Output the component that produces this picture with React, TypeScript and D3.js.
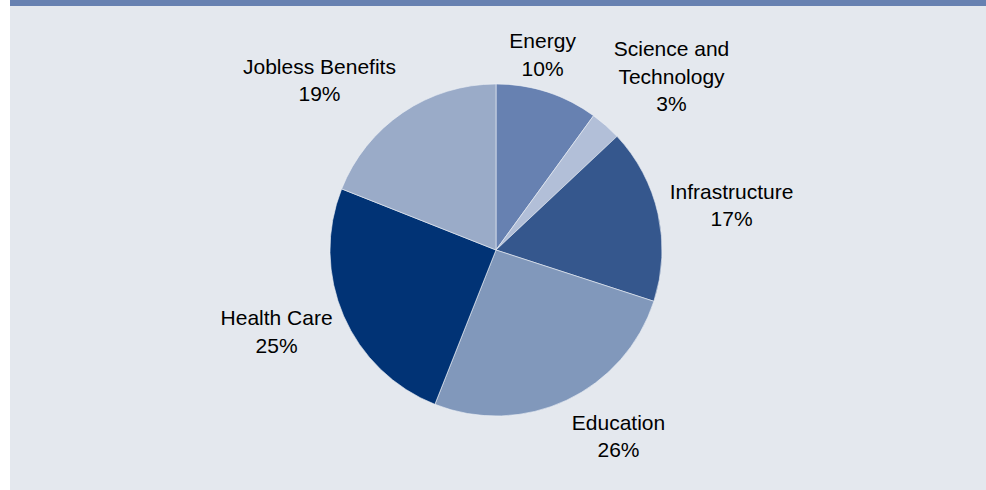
import React from "react";
import * as d3 from "d3";

const categories = ["Energy", "Science and Technology", "Infrastructure", "Education", "Health Care", "Jobless Benefits"];
const labelLines = [["Energy"], ["Science and", "Technology"], ["Infrastructure"], ["Education"], ["Health Care"], ["Jobless Benefits"]];
const values = [10, 3, 17, 26, 25, 19];
const colors = ["#6781b1", "#b2bfd8", "#35578d", "#8198bb", "#013375", "#9aabc8"];

const W = 986;
const H = 490;
const CX = 496;
const CY = 250;
const R = 166;
const FONT = 21;
const LINE = 27.5;

function textWidth(s: string): number {
  if (typeof document === "undefined") return s.length * FONT * 0.5;
  const c = document.createElement("canvas").getContext("2d");
  if (!c) return s.length * FONT * 0.5;
  c.font = `${FONT}px "Liberation Sans", Arial, sans-serif`;
  return c.measureText(s).width;
}

export default function App() {
  const pie = d3.pie<number>().sort(null).value((d) => d);
  const arcs = pie(values);
  const arcGen = d3.arc<d3.PieArcDatum<number>>().innerRadius(0).outerRadius(R);
  const gap = 12;

  const f = (s: number) => {
    const v = s >= 0 ? (s - 0.33) * 12 : (s + 0.33) * 12;
    return Math.max(-1, Math.min(1, v));
  };

  return (
    <svg width={W} height={H} style={{ position: "absolute", left: 0, top: 0 }}>
      <rect x={10} y={0} width={W - 10} height={H} fill="#e4e8ee" />
      <rect x={10} y={0} width={W - 10} height={6} fill="#6781b1" />
      <g transform={`translate(${CX},${CY})`}>
        {arcs.map((a, i) => (
          <path key={categories[i]} d={arcGen(a) || ""} fill={colors[i]} stroke="#eef1f6" strokeWidth={0.6} />
        ))}
      </g>
      {arcs.map((a, i) => {
        const mid = (a.startAngle + a.endAngle) / 2;
        const s = Math.sin(mid);
        const c = Math.cos(mid);
        const lines = [...labelLines[i], `${values[i]}%`];
        const w = Math.max(...lines.map(textWidth));
        const h = lines.length * LINE;
        const ax = CX + (R + gap) * s;
        const ay = CY - (R + gap) * c;
        const bx = ax + (w / 2) * f(s);
        const by = ay - (h / 2) * c * (lines.length > 2 ? 1.3 : 1);
        return (
          <text
            key={categories[i]}
            x={bx}
            textAnchor="middle"
            fontFamily='"Liberation Sans", Arial, sans-serif'
            fontSize={FONT}
            fill="#000"
          >
            {lines.map((ln, j) => (
              <tspan key={j} x={bx} y={by - ((lines.length - 1) / 2) * LINE + j * LINE} dy="0.35em">
                {ln}
              </tspan>
            ))}
          </text>
        );
      })}
    </svg>
  );
}
